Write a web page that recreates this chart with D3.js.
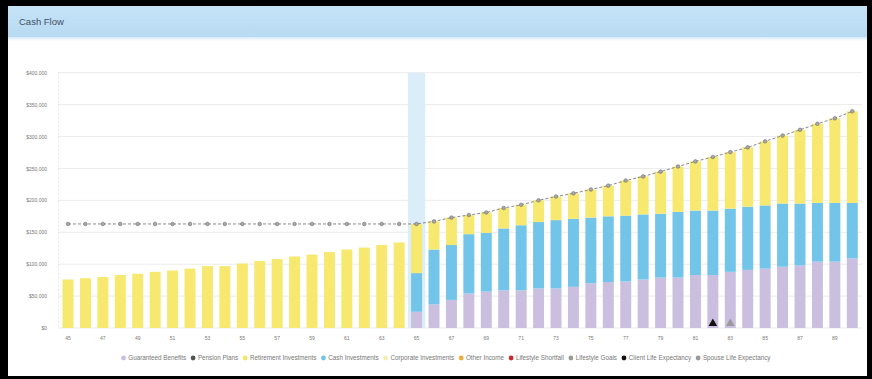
<!DOCTYPE html>
<html>
<head>
<meta charset="utf-8">
<script src="https://cdn.jsdelivr.net/npm/d3@7"></script>
<style>
  body { margin: 0; background: #000; }
  svg { display: block; font-family: "Liberation Sans", Arial, sans-serif; }
</style>
</head>
<body>
<svg id="chart" width="872" height="379"></svg>
<script>
// Client age for each year of the projection
const ages = [45, 46, 47, 48, 49, 50, 51, 52, 53, 54, 55, 56, 57, 58, 59, 60, 61, 62, 63, 64,
              65, 66, 67, 68, 69, 70, 71, 72, 73, 74, 75, 76, 77, 78, 79, 80, 81, 82, 83, 84,
              85, 86, 87, 88, 89, 90];
const retirementAge = 65;

// Yearly inflows by source (dollars)
const guaranteedBenefits = [0, 0, 0, 0, 0, 0, 0, 0, 0, 0, 0, 0, 0, 0, 0, 0, 0, 0, 0, 0,
  25500, 37000, 44000, 54000, 57000, 59000, 59000, 62000, 62000, 64500, 70000, 72000, 73000,
  76000, 79000, 79000, 83000, 83000, 88000, 91000, 93000, 96000, 98000, 104000, 104000, 109000];
const cashInvestments = [0, 0, 0, 0, 0, 0, 0, 0, 0, 0, 0, 0, 0, 0, 0, 0, 0, 0, 0, 0,
  60500, 86000, 86000, 93000, 92000, 97000, 102000, 104000, 107000, 106500, 103000, 103000,
  103000, 102000, 100000, 103000, 101000, 101000, 99000, 99000, 99000, 99000, 97000, 92000,
  92000, 87000];
const retirementInvestments = [76000, 78000, 80000, 83000, 85000, 88000, 90000, 93000, 97000,
  97000, 101000, 105000, 108000, 112000, 115000, 119000, 123000, 126000, 130000, 134000,
  77000, 44000, 43000, 30000, 32000, 32000, 32000, 34000, 37000, 40000, 44000, 48000, 55000,
  59500, 66000, 71000, 77000, 84000, 88500, 93000, 100500, 106500, 115500, 124000, 132500,
  143500];

// Lifestyle goal (dollars per year)
const lifestyleGoals = [163000, 163000, 163000, 163000, 163000, 163000, 163000, 163000, 163000,
  163000, 163000, 163000, 163000, 163000, 163000, 163000, 163000, 163000, 163000, 163000,
  163000, 167000, 173000, 177000, 181000, 188000, 193000, 200000, 206000, 211000, 217000,
  223000, 231000, 237500, 245000, 253000, 261000, 268000, 275500, 283000, 292500, 301500,
  310500, 320000, 328500, 339500];

const clientLifeExpectancy = 82;
const spouseLifeExpectancy = 83;

const yTicks = [0, 50000, 100000, 150000, 200000, 250000, 300000, 350000, 400000];
const xTickAges = [45, 47, 49, 51, 53, 55, 57, 59, 61, 63, 65, 67, 69, 71, 73, 75, 77, 79, 81, 83, 85, 87, 89];

const legendItems = [
  { label: "Guaranteed Benefits", color: "#cbbfe0" },
  { label: "Pension Plans", color: "#555555" },
  { label: "Retirement Investments", color: "#f6e66a" },
  { label: "Cash Investments", color: "#6fc3e8" },
  { label: "Corporate Investments", color: "#f3eeb4" },
  { label: "Other Income", color: "#f0ad3c" },
  { label: "Lifestyle Shortfall", color: "#cc2a2a" },
  { label: "Lifestyle Goals", color: "#9a9a9a" },
  { label: "Client Life Expectancy", color: "#111111" },
  { label: "Spouse Life Expectancy", color: "#9a9a9a" }
];

const seriesKeys = ["guaranteed", "cash", "retirement"];
const seriesColors = { guaranteed: "#cbbfe0", cash: "#72c5e9", retirement: "#f7e870" };

const rows = ages.map((age, i) => ({
  age,
  guaranteed: guaranteedBenefits[i],
  cash: cashInvestments[i],
  retirement: retirementInvestments[i],
  goal: lifestyleGoals[i]
}));

const svg = d3.select("#chart");

// Panel frame and header
svg.append("rect").attr("x", 0).attr("y", 0).attr("width", 872).attr("height", 379).attr("fill", "#000");
svg.append("rect").attr("x", 8).attr("y", 6).attr("width", 859).attr("height", 370).attr("fill", "#fff");

const defs = svg.append("defs");
const hg = defs.append("linearGradient").attr("id", "hdr").attr("x1", 0).attr("y1", 0).attr("x2", 0).attr("y2", 1);
hg.append("stop").attr("offset", "0%").attr("stop-color", "#c6e3f7");
hg.append("stop").attr("offset", "100%").attr("stop-color", "#b7daf2");
const fg = defs.append("linearGradient").attr("id", "hdrfade").attr("x1", 0).attr("y1", 0).attr("x2", 0).attr("y2", 1);
fg.append("stop").attr("offset", "0%").attr("stop-color", "#d4e9f8");
fg.append("stop").attr("offset", "100%").attr("stop-color", "#ffffff");

svg.append("rect").attr("x", 8).attr("y", 6).attr("width", 859).attr("height", 31).attr("fill", "url(#hdr)");
svg.append("rect").attr("x", 8).attr("y", 37).attr("width", 859).attr("height", 4).attr("fill", "url(#hdrfade)");
svg.append("text").attr("x", 19).attr("y", 25).attr("font-size", 9.5).attr("fill", "#3e5064")
  .text("Cash Flow");

// Scales
const x = d3.scaleBand().domain(ages).range([59.3, 861]).paddingInner(0.37).paddingOuter(0.185);
const y = d3.scaleLinear().domain([0, 400000]).range([328, 72.7]);
const step = x.step();

// Grid lines
svg.append("g").selectAll("line").data(yTicks).join("line")
  .attr("x1", 58).attr("x2", 862)
  .attr("y1", d => y(d)).attr("y2", d => y(d))
  .attr("stroke", "#e6e6e6").attr("stroke-width", 0.8);
svg.append("line").attr("x1", 58.5).attr("x2", 58.5).attr("y1", y(400000)).attr("y2", y(0))
  .attr("stroke", "#e3e3e3").attr("stroke-width", 0.8).attr("stroke-dasharray", "2,2");

// Retirement year highlight
svg.append("rect")
  .attr("x", x(retirementAge) - (step - x.bandwidth()) / 2)
  .attr("width", step)
  .attr("y", y(400000)).attr("height", y(0) - y(400000))
  .attr("fill", "#dbedf8");

// Y axis
const yAxis = svg.append("g").attr("transform", "translate(50,0)")
  .call(d3.axisLeft(y).tickValues(yTicks).tickSize(0).tickFormat(d3.format("$,")));
yAxis.select(".domain").remove();
yAxis.selectAll("text").attr("font-size", 5).attr("fill", "#777").attr("font-family", "Liberation Sans, Arial, sans-serif");

// X axis
const xAxis = svg.append("g").attr("transform", "translate(0,333)")
  .call(d3.axisBottom(x).tickValues(xTickAges).tickSize(0));
xAxis.select(".domain").remove();
xAxis.selectAll("text").attr("font-size", 5).attr("fill", "#777").attr("font-family", "Liberation Sans, Arial, sans-serif");

// Stacked bars
const stacked = d3.stack().keys(seriesKeys)(rows);
svg.append("g").selectAll("g").data(stacked).join("g")
  .attr("fill", d => seriesColors[d.key])
  .selectAll("rect").data(d => d.filter(s => s[1] > s[0])).join("rect")
  .attr("x", d => x(d.data.age))
  .attr("width", x.bandwidth())
  .attr("y", d => y(d[1]))
  .attr("height", d => y(d[0]) - y(d[1]));

// Lifestyle goal line
const line = d3.line().x(d => x(d.age) + x.bandwidth() / 2).y(d => y(d.goal));
svg.append("path").datum(rows).attr("d", line)
  .attr("fill", "none").attr("stroke", "#8a8a8a").attr("stroke-width", 1)
  .attr("stroke-dasharray", "3,2");
svg.append("g").selectAll("circle").data(rows).join("circle")
  .attr("cx", d => x(d.age) + x.bandwidth() / 2)
  .attr("cy", d => y(d.goal))
  .attr("r", 1.8)
  .attr("fill", "#a8a8a8").attr("stroke", "#6e6e6e").attr("stroke-width", 0.6);

// Life expectancy markers
const tri = d3.symbol().type(d3.symbolTriangle).size(32);
[[clientLifeExpectancy, "#111"], [spouseLifeExpectancy, "#9a9a9a"]].forEach(([age, color]) => {
  svg.append("path").attr("d", tri())
    .attr("transform", `translate(${x(age) + x.bandwidth() / 2},${y(0) - 4.5})`)
    .attr("fill", color);
});

// Legend
const legend = svg.append("g").attr("font-size", 6.3).attr("fill", "#777");
let cursor = 0;
legendItems.forEach(item => {
  const g = legend.append("g");
  g.append("circle").attr("cx", 0).attr("cy", -2).attr("r", 2.4).attr("fill", item.color);
  const t = g.append("text").attr("x", 4.8).attr("y", 0).text(item.label);
  const w = 4.8 + t.node().getComputedTextLength();
  g.attr("transform", `translate(${cursor},0)`);
  cursor += w + 7;
});
const totalW = cursor - 7;
legend.attr("transform", `translate(${445 - totalW / 2 + 2},360)`);
</script>
</body>
</html>
